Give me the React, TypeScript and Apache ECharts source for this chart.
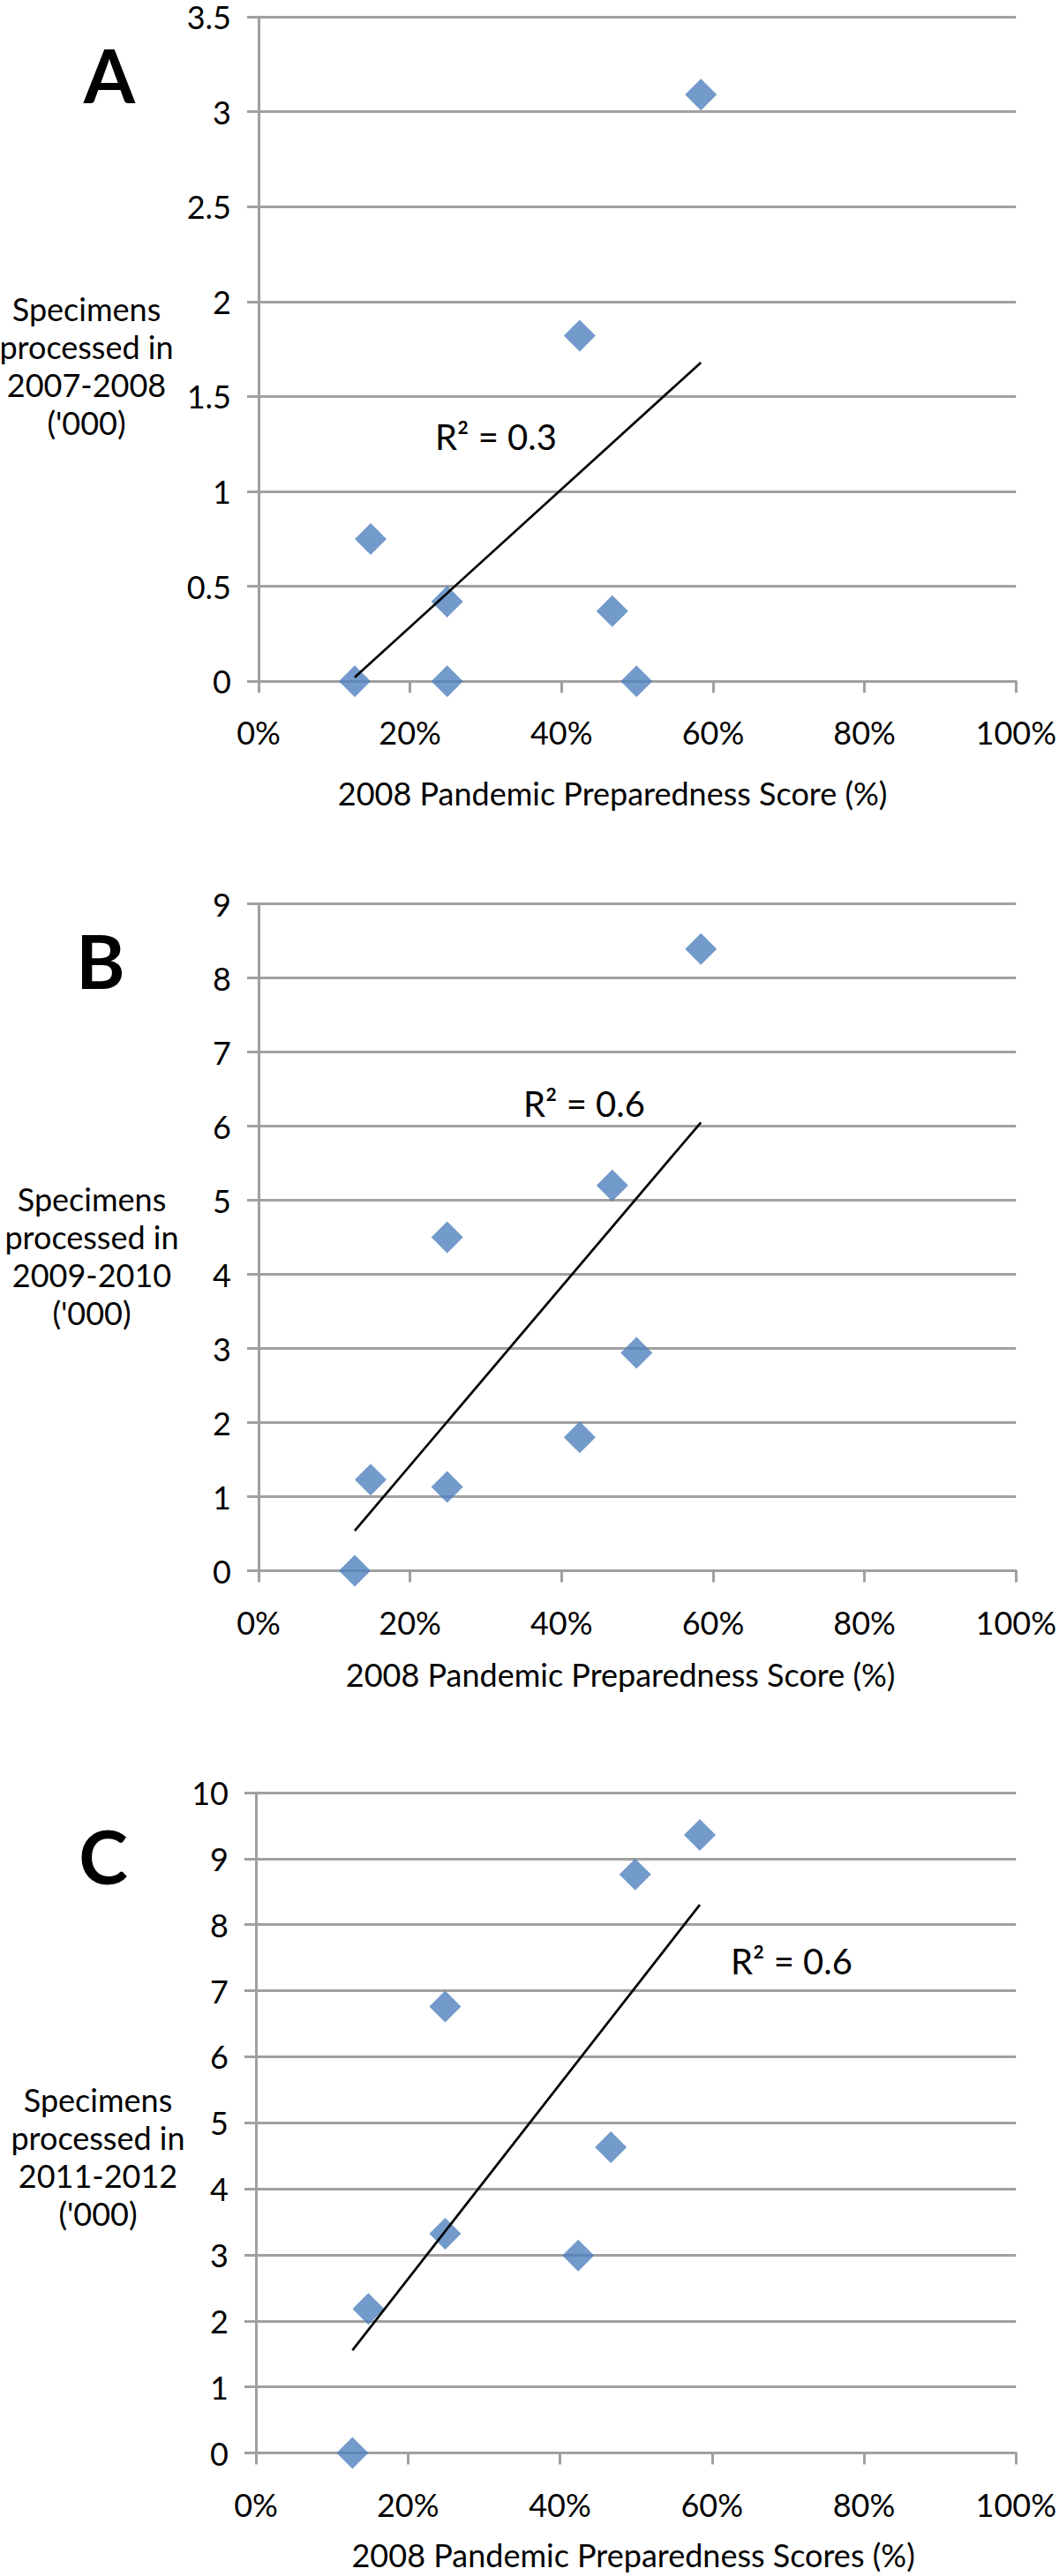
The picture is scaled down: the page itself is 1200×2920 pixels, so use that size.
import React, { useEffect, useRef } from "react";
import * as echarts from "echarts";

// 2008 Pandemic Preparedness Score (%) for each country (same order in all panels)
const scores = [12.7, 14.8, 24.9, 24.9, 42.4, 46.7, 49.9, 58.4];
// Specimens processed ('000)
const specimens2007 = [0, 0.75, 0.42, 0, 1.82, 0.37, 0, 3.09];
const specimens2009 = [0, 1.23, 1.13, 4.5, 1.8, 5.2, 2.94, 8.39];
const specimens2011 = [0, 2.18, 6.76, 3.32, 2.99, 4.63, 8.76, 9.36];

const panelLetters = ["A", "B", "C"];
const yNames = [
  "Specimens\nprocessed in\n2007-2008\n('000)",
  "Specimens\nprocessed in\n2009-2010\n('000)",
  "Specimens\nprocessed in\n2011-2012\n('000)",
];
const xNames = [
  "2008 Pandemic Preparedness Score (%)",
  "2008 Pandemic Preparedness Score (%)",
  "2008 Pandemic Preparedness Scores (%)",
];
const yMax = [3.5, 9, 10];
const yInterval = [0.5, 1, 1];
const seriesValues = [specimens2007, specimens2009, specimens2011];

// layout (pixels)
const layout = [
  { left: 293, top: 19, height: 753.3, nameGap: 109, namePad: 56, letter: [124, 84], yName: [98, 414], r2: [493, 495] },
  { left: 293, top: 1024.5, height: 756, nameGap: 99, namePad: 38, letter: [114, 1088], yName: [104, 1423], r2: [593, 1251] },
  { left: 290, top: 2032, height: 748.5, nameGap: 97, namePad: 6, letter: [117, 2103], yName: [111, 2444], r2: [828, 2223] },
];

const FONT = "Lato";
const GRID_COLOR = "#a0a0a0";
const MARKER_COLOR = "#4F81BD";

function regression(xs: number[], ys: number[]) {
  const n = xs.length;
  const mx = xs.reduce((a, b) => a + b, 0) / n;
  const my = ys.reduce((a, b) => a + b, 0) / n;
  let sxy = 0, sxx = 0, syy = 0;
  for (let i = 0; i < n; i++) {
    sxy += (xs[i] - mx) * (ys[i] - my);
    sxx += (xs[i] - mx) ** 2;
    syy += (ys[i] - my) ** 2;
  }
  const slope = sxy / sxx;
  const intercept = my - slope * mx;
  const r2 = (sxy * sxy) / (sxx * syy);
  return { slope, intercept, r2 };
}

export default function App() {
  const ref = useRef<HTMLDivElement>(null);

  useEffect(() => {
    document.body.style.margin = "0";
    if (!ref.current) return;
    const chart = echarts.init(ref.current, undefined, { renderer: "svg" });

    const fits = seriesValues.map((ys) => regression(scores, ys));
    const xMin = Math.min(...scores);
    const xMax = Math.max(...scores);

    const axisLineStyle = { color: GRID_COLOR, width: 3 };

    const option: any = {
      animation: false,
      textStyle: { fontFamily: FONT },
      grid: layout.map((l) => ({
        left: l.left,
        top: l.top,
        width: 1152 - l.left,
        height: l.height,
        containLabel: false,
      })),
      xAxis: layout.map((l, i) => ({
        gridIndex: i,
        type: "value",
        min: 0,
        max: 100,
        interval: 20,
        name: xNames[i],
        nameLocation: "middle",
        nameGap: l.nameGap,
        nameTextStyle: {
          fontFamily: FONT,
          fontSize: 36,
          color: "#000",
          padding: [0, l.namePad, 0, 0],
        },
        axisLine: { show: true, lineStyle: axisLineStyle },
        axisTick: { show: true, length: 13, inside: false, lineStyle: axisLineStyle },
        axisLabel: {
          formatter: "{value}%",
          fontFamily: FONT,
          fontSize: 36,
          color: "#000",
          margin: 40,
        },
        splitLine: { show: false },
      })),
      yAxis: layout.map((l, i) => ({
        gridIndex: i,
        type: "value",
        min: 0,
        max: yMax[i],
        interval: yInterval[i],
        axisLine: { show: true, lineStyle: axisLineStyle },
        axisTick: { show: true, length: 13, inside: false, lineStyle: axisLineStyle },
        axisLabel: {
          fontFamily: FONT,
          fontSize: 36,
          color: "#000",
          margin: 31,
        },
        splitLine: { show: true, lineStyle: axisLineStyle },
      })),
      series: [
        ...seriesValues.map((ys, i) => ({
          type: "scatter",
          xAxisIndex: i,
          yAxisIndex: i,
          symbol: "diamond",
          symbolSize: 36,
          itemStyle: { color: MARKER_COLOR },
          data: scores.map((x, k) => [x, ys[k]]),
          z: 2,
        })),
        ...fits.map((f, i) => ({
          type: "line",
          xAxisIndex: i,
          yAxisIndex: i,
          symbol: "none",
          lineStyle: { color: "#000", width: 2.7 },
          data: [
            [xMin, f.intercept + f.slope * xMin],
            [xMax, f.intercept + f.slope * xMax],
          ],
          z: 3,
        })),
      ],
      graphic: [
        ...layout.map((l, i) => ({
          type: "text",
          x: l.letter[0],
          y: l.letter[1],
          style: {
            text: panelLetters[i],
            fontFamily: FONT,
            fontWeight: "bold",
            fontSize: 84,
            fill: "#000",
            align: "center",
            verticalAlign: "middle",
          },
        })),
        ...layout.map((l, i) => ({
          type: "text",
          x: l.yName[0],
          y: l.yName[1],
          style: {
            text: yNames[i],
            fontFamily: FONT,
            fontSize: 36,
            lineHeight: 43,
            fill: "#000",
            align: "center",
            verticalAlign: "middle",
          },
        })),
        ...layout.map((l, i) => ({
          type: "text",
          x: l.r2[0],
          y: l.r2[1],
          style: {
            text: "R² = " + fits[i].r2.toFixed(1),
            fontFamily: FONT,
            fontSize: 40,
            fill: "#000",
            align: "left",
            verticalAlign: "middle",
          },
        })),
      ],
    };

    chart.setOption(option);
    return () => chart.dispose();
  }, []);

  return <div ref={ref} style={{ width: 1200, height: 2920 }} />;
}
